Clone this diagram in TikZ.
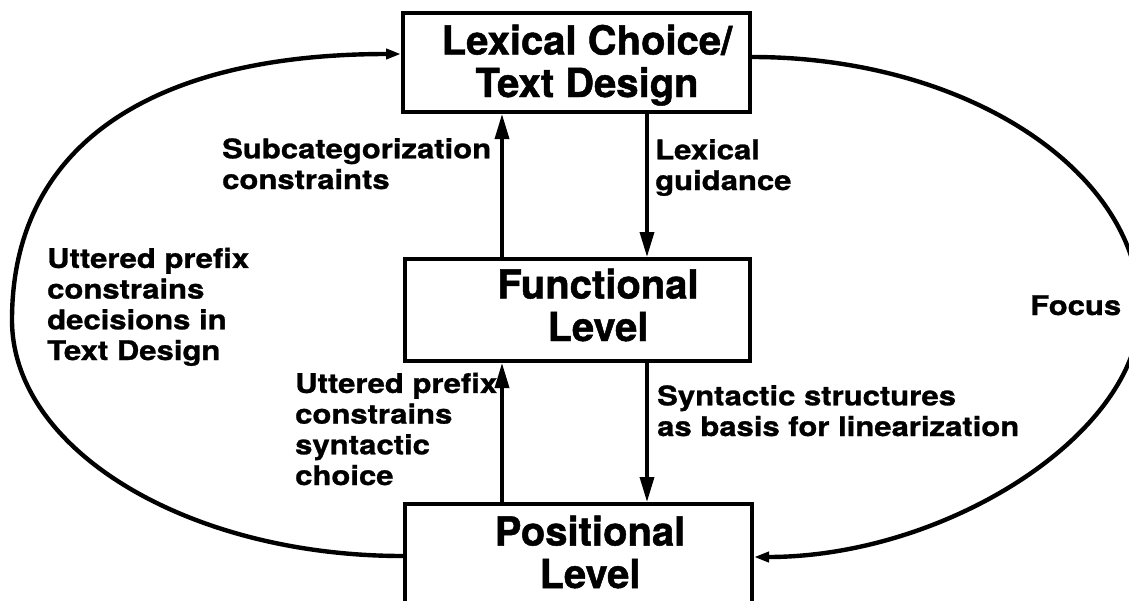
\documentclass[tikz,border=0pt]{standalone}
\usepackage{fontspec}
\setmainfont{TeX Gyre Heros}[BoldFeatures={FakeBold=1.2}]
\newfontfamily\lblfont{TeX Gyre Heros}[FakeStretch=1.15,BoldFeatures={FakeBold=1.0}]
\usetikzlibrary{arrows.meta}
\begin{document}
\begin{tikzpicture}[x=1pt,y=-1pt,
  box/.style={draw,line width=4pt,inner sep=0pt},
  boxtxt/.style={font=\fontsize{40}{42.5}\selectfont\bfseries,align=center,inner sep=0pt,anchor=base},
  lbl/.style={font=\lblfont\fontsize{27}{30.7}\selectfont\bfseries,align=left,inner sep=0pt,anchor=base west},
  varr/.style={line width=3.4pt,-{Triangle[length=25pt,width=14pt]}},
  arcline/.style={line width=4.4pt,-{Triangle[length=15pt,width=10pt]}}]
\useasboundingbox (0,0) rectangle (1129,600);
\clip (0,0) rectangle (1129,600);
% boxes
\node[box,minimum width=347pt,minimum height=99pt] (lex) at (576.5,62.5) {};
\node[box,minimum width=345pt,minimum height=102pt] (func) at (577.5,310) {};
\node[box,minimum width=347pt,minimum height=140pt] (pos) at (578.5,574) {};
% box texts (anchor = baseline of last line)
\node[boxtxt] (lextxt) at (587,97) {Lexical Choice/\\Text Design};
\node[boxtxt] (functxt) at (598,341) {Functional\\Level};
\node[boxtxt] (postxt) at (590,588) {Positional\\Level};
% labels (anchor = baseline of last line)
\node[lbl] (subcat) at (222,189) {Subcategorization\\constraints};
\node[lbl] (lexg) at (655,190) {Lexical\\guidance};
\node[lbl] (utt1) at (47,360) {Uttered prefix\\constrains\\decisions in\\Text Design};
\node[lbl] (focus) at (1030,315) {Focus};
\node[lbl] (utt2) at (295,485) {Uttered prefix\\constrains\\syntactic\\choice};
\node[lbl] (synt) at (657,436) {Syntactic structures\\as basis for linearization};
% vertical arrows
\coordinate (ux) at (502,0);
\coordinate (dx) at (647,0);
\draw[varr] (func.north -| ux) -- (lex.south -| ux);
\draw[varr] (lex.south -| dx) -- (func.north -| dx);
\draw[varr] (pos.north -| ux) -- (func.south -| ux);
\draw[varr] (func.south -| dx) -- (pos.north -| dx);
% outer loop
\draw[arcline] ([yshift=18pt]pos.west) .. controls (188,556) and (12,450) .. (12,320)
  .. controls (12,147) and (149,54) .. ([yshift=8.5pt]lex.west);
\draw[arcline] ([yshift=5.5pt]lex.east) .. controls (966,57) and (1140,171) .. (1140,310)
  .. controls (1140,434) and (946,557) .. ([yshift=17pt]pos.east);
\end{tikzpicture}
\end{document}
